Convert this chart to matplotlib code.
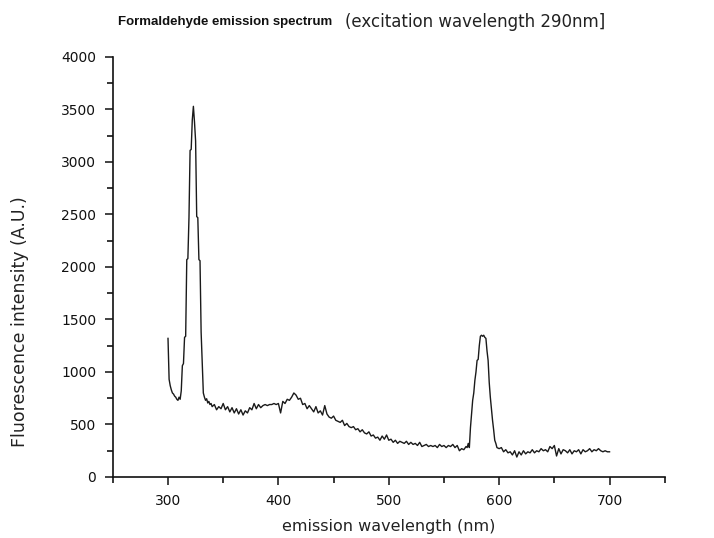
import matplotlib
matplotlib.use("Agg")
import matplotlib.pyplot as plt
from matplotlib.ticker import MultipleLocator

# emission wavelength (nm) and fluorescence intensity (A.U.)
wl_peak1 = [300, 301, 302, 303, 304, 305, 306, 307, 308, 309, 310, 311, 312, 313, 314,
            315, 316, 317, 318, 319, 320, 321, 322, 323, 324, 325, 326, 327, 328, 329,
            330, 331, 332, 333, 334, 335, 336, 337, 338, 339, 340]
int_peak1 = [1320, 930, 870, 830, 800, 790, 770, 760, 740, 730, 760, 740, 820, 1060, 1080,
             1330, 1340, 2070, 2080, 2470, 3110, 3120, 3400, 3530, 3380, 3200, 2480, 2470, 2070, 2060,
             1380, 1100, 800, 760, 730, 745, 705, 720, 690, 700, 670]

wl_mid = list(range(342, 572, 2))
int_mid = [690, 640, 670, 650, 700, 640, 670, 620, 660, 610,
           650, 600, 640, 590, 630, 610, 660, 640, 700, 650,
           690, 660, 680, 690, 680, 690, 690, 700, 690, 700,
           610, 720, 700, 740, 730, 760, 800, 780, 740, 750,
           690, 700, 650, 680, 650, 620, 670, 610, 630, 590,
           680, 600, 570, 560, 580, 540, 530, 520, 540, 490,
           510, 480, 470, 480, 450, 460, 430, 450, 420, 410,
           430, 390, 400, 370, 380, 350, 390, 360, 400, 350,
           360, 330, 350, 320, 340, 330, 320, 340, 310, 330,
           310, 320, 300, 330, 290, 300, 310, 290, 300, 290,
           300, 280, 310, 290, 300, 280, 300, 290, 310, 280,
           300, 250, 270, 260, 290]

wl_peak2 = list(range(571, 599))
int_peak2 = [280, 320, 280, 470, 600, 730, 800, 920, 1000, 1110,
             1120, 1250, 1340, 1350, 1340, 1350, 1330, 1320, 1200, 1110,
             900, 760, 650, 540, 450, 350, 320, 280]

wl_tail = list(range(600, 702, 2))
int_tail = [270, 280, 240, 260, 230, 240, 210, 250, 190, 240,
            210, 250, 220, 240, 230, 260, 230, 250, 240, 270,
            250, 260, 240, 290, 270, 300, 200, 270, 220, 260,
            250, 230, 260, 220, 250, 240, 260, 220, 260, 240,
            250, 270, 240, 260, 250, 270, 250, 240, 250, 240,
            240]

wavelength = wl_peak1 + wl_mid + wl_peak2 + wl_tail
intensity = int_peak1 + int_mid + int_peak2 + int_tail

plt.rcParams["font.family"] = ["DejaVu Sans"]

fig = plt.figure(figsize=(7.14, 5.38), dpi=100)
ax = fig.add_axes([0.158, 0.1134, 0.773, 0.7807])

ax.plot(wavelength, intensity, color="#1a1a1a", linewidth=1.0)

ax.set_xlim(250, 750)
ax.set_ylim(0, 4000)
ax.yaxis.set_major_locator(MultipleLocator(500))
ax.yaxis.set_minor_locator(MultipleLocator(250))
ax.set_xticks([300, 400, 500, 600, 700])
ax.set_xticks([250, 350, 450, 550, 650, 750], minor=True)

for s in ["top", "right"]:
    ax.spines[s].set_visible(False)
for s in ["left", "bottom"]:
    ax.spines[s].set_linewidth(1.2)
    ax.spines[s].set_color("#111111")

ax.tick_params(axis="both", which="major", direction="out", length=6, width=1.1,
               labelsize=10, colors="#111111", pad=6)
ax.tick_params(axis="both", which="minor", direction="out", length=4, width=1.1)

fig.text(389 / 714, 1 - 526 / 538, "emission wavelength (nm)", fontsize=11.5,
         color="#222222", ha="center", va="center")
fig.text(20 / 714, 1 - 322 / 538, "Fluorescence intensity (A.U.)", rotation=90,
         fontsize=12.5, color="#222222", ha="center", va="center")

fig.text(118 / 714, 1 - 22 / 538, "Formaldehyde emission spectrum", fontsize=9.5,
         fontweight="bold", family=["Liberation Sans", "DejaVu Sans"],
         ha="left", va="center", color="#111111")
fig.text(345 / 714, 1 - 22 / 538, "(excitation wavelength 290nm]", fontsize=12,
         ha="left", va="center", color="#222222")

fig.savefig("out.png", dpi=100)
